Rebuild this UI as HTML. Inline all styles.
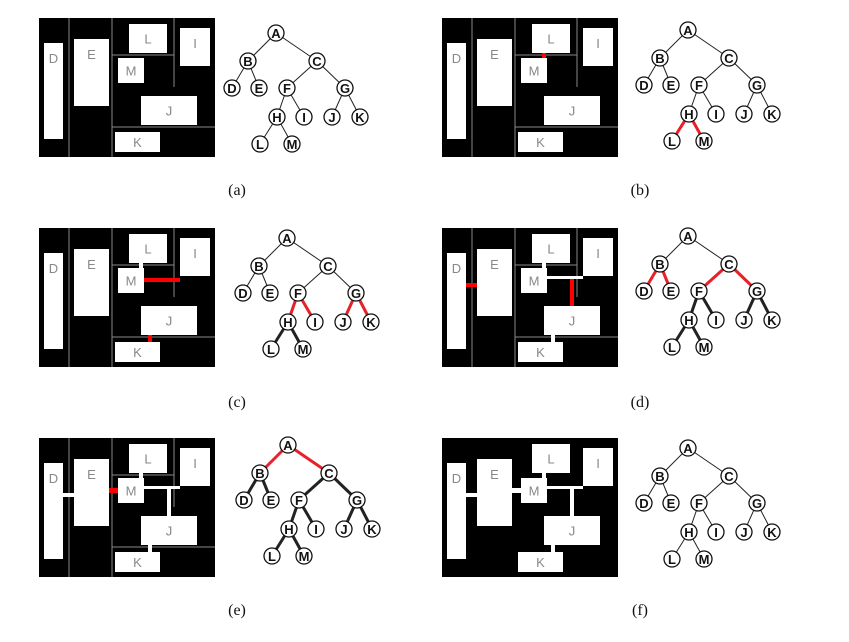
<!DOCTYPE html>
<html><head><meta charset="utf-8"><style>
html,body{margin:0;padding:0;background:#fff;width:849px;height:642px;overflow:hidden}
svg{position:absolute;left:0;top:0}
</style></head><body>
<svg id="fig" width="849" height="642" font-family="Liberation Sans, sans-serif"></svg>
<script>
const NS='http://www.w3.org/2000/svg';
const svg=document.getElementById('fig');
// panel offsets
const panelNames=['a','b','c','d','e','f'];
const panelDx=[0,403,0,403,0,403];
const panelDy=[0,0,210,210,420,420];
const treeDx=[0,412,11,412,12,412];
const treeDy=[0,-3,205,203,412,415];
// tree nodes
const nodeLabels=['A','B','C','D','E','F','G','H','I','J','K','L','M'];
const nodeX=[276,248,317,232,259,287,345,277,304,332,360,260,292];
const nodeY=[33,61,61,88,88,88,88,117,117,117,117,144,144];
const edgeFrom=['A','A','B','B','C','C','F','F','G','G','H','H'];
const edgeTo=['B','C','D','E','F','G','H','I','J','K','L','M'];
const edgeStyle=[
 'tttttttttttt',
 'ttttttttttrr',
 'ttttttrrrrbb',
 'ttrrrrbbbbbb',
 'rrbbbbbbbbbb',
 'tttttttttttt'];
// floorplan rects
const rectLabels=['D','E','L','I','M','J','K'];
const rectX=[44,74,129,180,118,141,115];
const rectY=[43,39,24,28,58,96,132];
const rectW=[19,35,38,30,26,56,45];
const rectH=[96,67,29,38,25,29,20];
const conns=[
 [],
 [[139,53,4,5,'red']],
 [[139,53,4,5,'#fff'],[144,68,36,4,'red'],[148,125,4,7,'red']],
 [[139,53,4,5,'#fff'],[144,66,36,3,'#fff'],[167,69,4,27,'red'],[63,73,11,4,'red'],[148,125,4,7,'#fff']],
 [[139,53,4,5,'#fff'],[144,66,36,3,'#fff'],[167,69,4,27,'#fff'],[63,73,11,4,'#fff'],[148,125,4,7,'#fff'],[109,68,9,5,'red']],
 [[139,53,4,5,'#fff'],[144,66,36,3,'#fff'],[167,69,4,27,'#fff'],[63,73,11,4,'#fff'],[148,125,4,7,'#fff'],[109,68,9,5,'#fff']]
];
function el(t,a,p){const e=document.createElementNS(NS,t);for(const k in a)e.setAttribute(k,a[k]);(p||svg).appendChild(e);return e;}
panelNames.forEach((pn,p)=>{
 const g=el('g',{transform:`translate(${panelDx[p]},${panelDy[p]})`});
 
 
 const bg=el('rect',{x:39,y:18,width:176,height:139,fill:'#000'},g);
 
 
 if(p<5){
  [[69,18,69,157],[112,18,112,157],[174,18,174,87],[112,55,174,55],[112,127,215,127]].forEach(l=>el('line',{x1:l[0],y1:l[1],x2:l[2],y2:l[3],stroke:'#888','stroke-width':1},g));
 }
 rectLabels.forEach((r,i)=>{
  const rr=el('rect',{x:rectX[i],y:rectY[i],width:rectW[i],height:rectH[i],fill:'#fff'},g);
  
  
  const tx=el('text',{x:rectX[i]+rectW[i]/2,y:rectY[i]+Math.min(rectH[i]/2+5,20),'text-anchor':'middle','font-size':13,fill:'#888'},g);
  tx.textContent=r;
 });
 conns[p].forEach(c=>{const cr=el('rect',{x:c[0],y:c[1],width:c[2],height:c[3],fill:c[4]},g);
  
  });
 const tg=el('g',{transform:`translate(${treeDx[p]-panelDx[p]},${treeDy[p]-panelDy[p]})`},g);
 
 
 edgeFrom.forEach((f,i)=>{
  const a=nodeLabels.indexOf(f),b=nodeLabels.indexOf(edgeTo[i]);const s=edgeStyle[p][i];
  const ln=el('line',{x1:nodeX[a],y1:nodeY[a],x2:nodeX[b],y2:nodeY[b],stroke:s==='r'?'#e8202a':'#222','stroke-width':s==='t'?1:3},tg);
  
  
 });
 nodeLabels.forEach((n,i)=>{
  const c=el('circle',{cx:nodeX[i],cy:nodeY[i],r:8,fill:'#fff',stroke:'#111','stroke-width':1.3},tg);
  
  
  const t=el('text',{x:nodeX[i],y:nodeY[i]+5,'text-anchor':'middle','font-size':13,'font-weight':'bold',fill:'#111'},tg);
  t.textContent=n;
 });
 const cap=el('text',{x:237,y:[195,195,197,197,195,195][p],'text-anchor':'middle','font-size':16,'font-family':'Liberation Serif, serif',fill:'#111'},g);
 
 
 cap.textContent='('+pn+')';
});
</script>
</body></html>
